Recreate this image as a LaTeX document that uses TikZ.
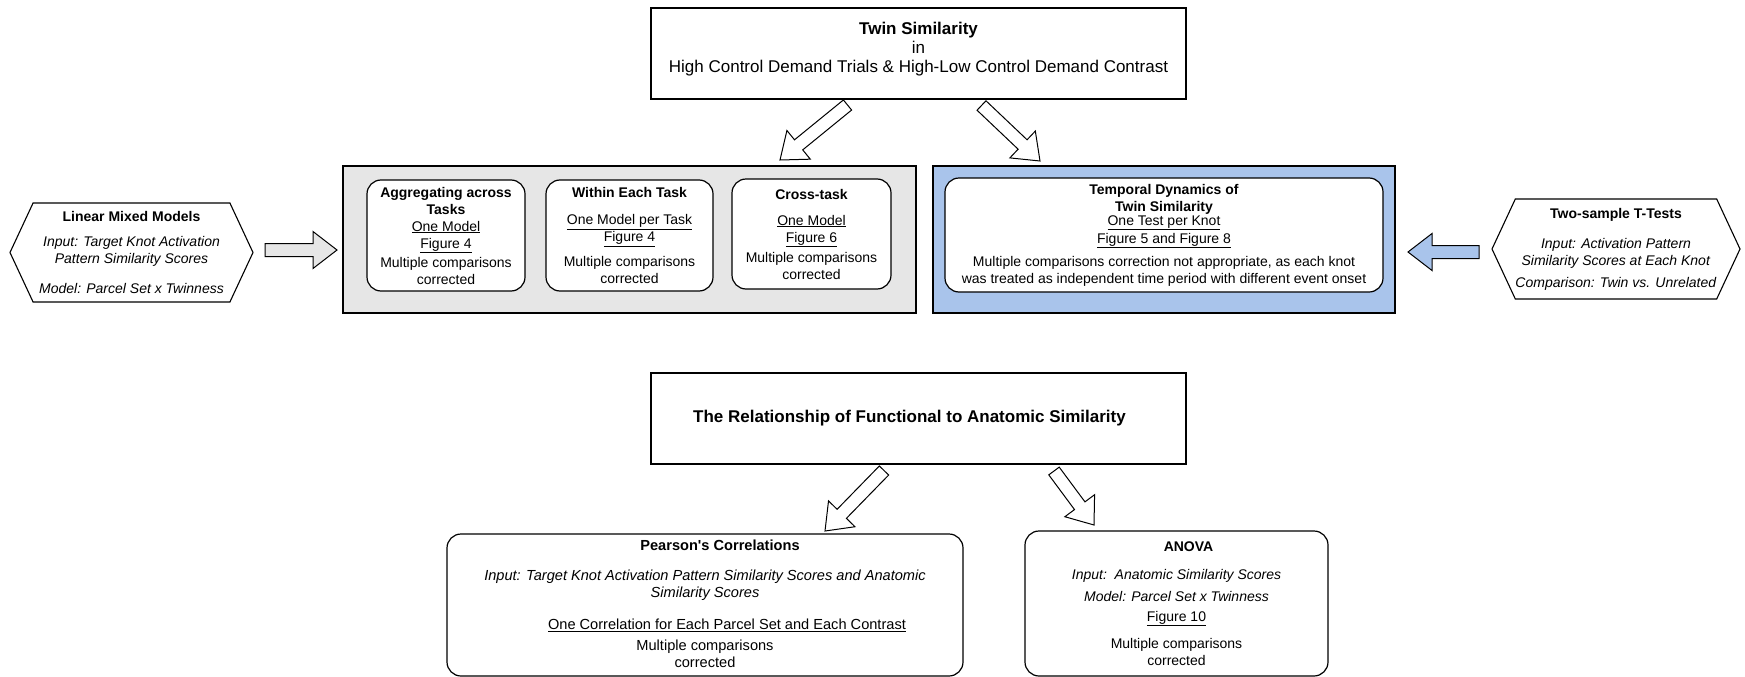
\documentclass[tikz,border=0pt]{standalone}
\usepackage{fontspec}
\setmainfont{Liberation Sans}
\usetikzlibrary{calc,shapes.symbols,positioning}

\definecolor{panelgray}{HTML}{E6E6E6}
\definecolor{panelblue}{HTML}{A9C4EB}
\newcommand{\boxfont}{\fontsize{14}{17}\selectfont}
\newcommand{\headfont}{\fontsize{17}{19}\selectfont}
\newcommand{\ul}[1]{\underline{#1}}

% fat block arrow from tail (#2) to tip (#3)
\newcommand{\blockarrow}[3][]{%
    \coordinate (#2-neck) at ($(#3)!24pt!(#2)$);
    \draw[fatarrow,#1] ($(#2)!6.5pt!90:(#3)$) -- ($(#2-neck)!6.5pt!90:(#3)$) -- ($(#2-neck)!18.5pt!90:(#3)$)
        -- (#3) -- ($(#2-neck)!18.5pt!-90:(#3)$) -- ($(#2-neck)!6.5pt!-90:(#3)$) -- ($(#2)!6.5pt!-90:(#3)$) -- cycle;}

\begin{document}
\begin{tikzpicture}[x=1pt,y=-1pt,
    panel/.style={draw, line width=1.2pt, align=center, font=\boxfont, inner sep=0pt},
    card/.style={draw, line width=1.2pt, fill=white, rounded corners=14pt, align=center, font=\boxfont, inner sep=0pt},
    hexbox/.style={draw, line width=1.1pt, signal, signal to=east and west, signal pointer angle=130, align=center, font=\boxfont, inner sep=0pt},
    fatarrow/.style={draw, line width=1pt, fill=white, line join=miter}]

    \useasboundingbox (0,0) rectangle (1745,677);

    % upper part
    \node[panel, font=\headfont, minimum width=535, minimum height=91] (twin) at (918.5,53.5)
        {\textbf{Twin Similarity}\\in\\High Control Demand Trials \& High-Low Control Demand Contrast\\[-6pt]\mbox{}};

    \node[panel, fill=panelgray, minimum width=573, minimum height=147] (models) at (629.5,239.5) {};
    \node[panel, fill=panelblue, minimum width=462, minimum height=147] (temporal) at (1164,239.5) {};

    \node[card, minimum width=158, minimum height=111] (aggregate) at (446,235.5)
        {\textbf{Aggregating across}\\\textbf{Tasks}\\\ul{One Model}\\\ul{Figure 4}\\[2pt]Multiple comparisons\\corrected};
    \node[card, minimum width=167, minimum height=111] (pertask) at (629.5,235.5)
        {\textbf{Within Each Task}\\[10pt]\ul{One Model per Task}\\\ul{Figure 4}\\[8pt]Multiple comparisons\\corrected};
    \node[card, minimum width=159, minimum height=110] (crosstask) at (811.5,234)
        {\textbf{Cross-task}\\[9pt]\ul{One Model}\\\ul{Figure 6}\\[3pt]Multiple comparisons\\corrected};

    \node[card, minimum width=438, minimum height=114] (knots) at (1164,235)
        {\textbf{Temporal Dynamics of}\\\textbf{Twin Similarity}\\[-3pt]\ul{One Test per Knot}\\[1pt]\ul{Figure 5 and Figure 8}\\[6pt]Multiple comparisons correction not appropriate, as each knot\\was treated as independent time period with different event onset};

    \node[hexbox, minimum width=243, minimum height=99] (lmm) at (131.5,252.5)
        {\textbf{Linear Mixed Models}\\[8pt]\textit{Input: Target Knot Activation}\\\textit{Pattern Similarity Scores}\\[13pt]\textit{Model: Parcel Set x Twinness}};
    \node[hexbox, minimum width=248, minimum height=100] (ttest) at (1616,249)
        {\textbf{Two-sample T-Tests}\\[13pt]\textit{Input: Activation Pattern}\\\textit{Similarity Scores at Each Knot}\\[5pt]\textit{Comparison: Twin vs. Unrelated}};

    % lower part
    \node[panel, font=\headfont, minimum width=535, minimum height=91] (anatomy) at (918.5,418.5)
        {\hspace*{-18pt}\textbf{The Relationship of Functional to Anatomic Similarity}};

    \node[card, font=\fontsize{14.6}{17}\selectfont, minimum width=516, minimum height=142] (pearson) at (705,605)
        {\hspace*{30pt}\textbf{Pearson\textquotesingle s Correlations}\\[13pt]\textit{Input: Target Knot Activation Pattern Similarity Scores and Anatomic}\\\textit{Similarity Scores}\\[15pt]\hspace*{44pt}\ul{One Correlation for Each Parcel Set and Each Contrast}\\[4pt]Multiple comparisons\\corrected\\[-14pt]\mbox{}};
    \node[card, minimum width=303, minimum height=145] (anova) at (1176.5,603.5)
        {\hspace*{24pt}\textbf{ANOVA}\\[11pt]\textit{Input:\ \ Anatomic Similarity Scores}\\[5pt]\textit{Model: Parcel Set x Twinness}\\[3pt]\ul{Figure 10}\\[10pt]Multiple comparisons\\corrected};

    % block arrows
    \coordinate (a1) at (847.5,105);   \coordinate (a1tip) at (780,160);
    \coordinate (a2) at (981.5,105.5); \coordinate (a2tip) at (1040,161);
    \coordinate (a3) at (265,250);     \coordinate (a3tip) at (337,250);
    \coordinate (a4) at (1479,252);    \coordinate (a4tip) at (1408,252);
    \coordinate (a5) at (884,470.5);   \coordinate (a5tip) at (825,531);
    \coordinate (a6) at (1054,471);    \coordinate (a6tip) at (1094,525);

    \blockarrow{a1}{a1tip}
    \blockarrow{a2}{a2tip}
    \blockarrow[fill=panelgray]{a3}{a3tip}
    \blockarrow[fill=panelblue]{a4}{a4tip}
    \blockarrow{a5}{a5tip}
    \blockarrow{a6}{a6tip}
\end{tikzpicture}
\end{document}
